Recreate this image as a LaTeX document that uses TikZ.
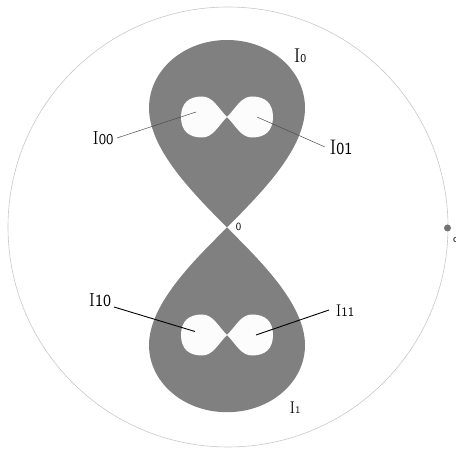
\documentclass[tikz,border=0pt]{standalone}
\definecolor{fillgray}{HTML}{808080}
\definecolor{holecol}{HTML}{FCFCFC}
\definecolor{rimgray}{HTML}{C8C8C8}
\newcommand\Ilab[3]{{\fontsize{#1}{#1}\selectfont I}{\sffamily\fontsize{#2}{#2}\selectfont #3}}
\begin{document}
\begin{tikzpicture}[x=1pt,y=-1pt,
  lbl/.style={inner sep=0pt, anchor=center},
  thinlead/.style={draw=black!70, line width=0.5pt},
  thicklead/.style={draw=black, line width=0.9pt},
  tear/.style={fill=fillgray, draw=none},
  hole/.style={fill=holecol, draw=none}]
\useasboundingbox (0,0) rectangle (456,454);
% outer circle
\draw[rimgray, line width=0.6pt] (228,227) circle[radius=220];
% point c
\node[circle, fill=black!55, inner sep=0pt, minimum size=7pt] (cdot) at (447.5,228) {};
\node[inner sep=0pt, anchor=west, font=\sffamily\fontsize{11}{11}\selectfont] (clab) at (452.8,240) {c};
% teardrops
\coordinate (apex) at (227,227.5);
\path[tear] (apex)
  .. controls (195,195) and (149,150) .. (149,108)
  .. controls (149,70.5) and (183.4,40) .. (227,40)
  .. controls (270.6,40) and (305,70.5) .. (305,108)
  .. controls (305,150) and (259,195) .. (apex) -- cycle;
\path[tear] (apex)
  .. controls (195,259.5) and (149,303.8) .. (149,345.2)
  .. controls (149,382.1) and (183.4,412.2) .. (227,412.2)
  .. controls (270.6,412.2) and (305,382.1) .. (305,345.2)
  .. controls (305,303.8) and (259,259.5) .. (apex) -- cycle;
% holes (figure eights)
\foreach \cy in {117,335}{
\path[hole, shift={(227,\cy)}] (0,0)
  .. controls (-9,-9) and (-14,-20.5) .. (-25,-20.5)
  .. controls (-38,-20.5) and (-46,-14) .. (-46,0)
  .. controls (-46,14) and (-38,20.5) .. (-25,20.5)
  .. controls (-14,20.5) and (-9,9) .. (0,0)
  .. controls (9,-9) and (14,-20.5) .. (25,-20.5)
  .. controls (38,-20.5) and (46,-14) .. (46,0)
  .. controls (46,14) and (38,20.5) .. (25,20.5)
  .. controls (14,20.5) and (9,9) .. (0,0) -- cycle;
}
% labels
\node[lbl] (zero) at (238.5,227) {\sffamily\fontsize{11}{11}\selectfont 0};
\node[lbl] (I0) at (300,56) {\Ilab{20}{12}{0}};
\node[lbl] (I1) at (295,408) {\Ilab{17}{10}{1}};
\node[lbl] (I00) at (103,138) {\Ilab{19}{15}{00}};
\node[lbl] (I01) at (341,147) {\Ilab{21}{17}{01}};
\node[lbl] (I10) at (100,300) {\Ilab{19}{17}{10}};
\node[lbl] (I11) at (345,311) {\Ilab{17}{13}{11}};
% leader ends
\coordinate (h00) at (196,112);
\coordinate (h01) at (257,117);
\coordinate (h10) at (195,331.5);
\coordinate (h11) at (256,335);
\coordinate (s00) at (117,138);
\coordinate (s01) at (325,147);
\coordinate (s10) at (114,307);
\coordinate (s11) at (329,310);
\draw[thinlead] (s00) -- (h00);
\draw[thinlead] (s01) -- (h01);
\draw[thicklead] (s10) -- (h10);
\draw[thicklead] (s11) -- (h11);
\end{tikzpicture}
\end{document}
